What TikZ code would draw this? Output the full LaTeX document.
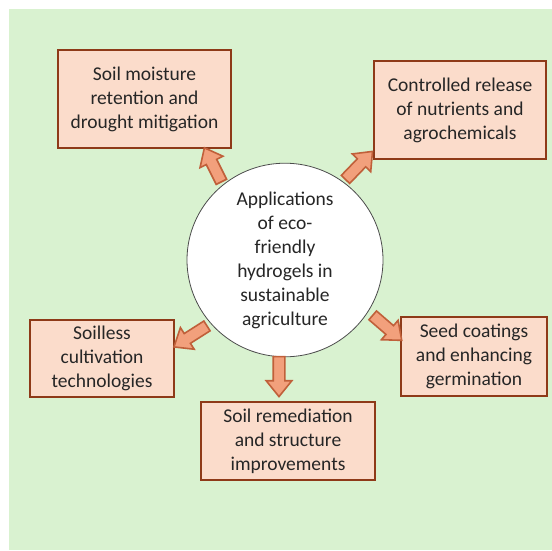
\documentclass[tikz,border=0pt]{standalone}
\usepackage{fontspec}
\setmainfont{Carlito}
\usepackage{tikz}
\usetikzlibrary{calc,shapes.geometric,shapes.arrows}
\definecolor{bgGreen}{HTML}{D9F2D0}
\definecolor{boxFill}{HTML}{FBDCCB}
\definecolor{boxLine}{HTML}{8E3A18}
\definecolor{arrFill}{HTML}{F2A07C}
\definecolor{arrLine}{HTML}{C0603A}
\tikzset{
    appbox/.style={draw=boxLine, line width=2.2pt, fill=boxFill, align=center,
        inner sep=0pt, font=\fontsize{19.5}{24}\selectfont, text=black!85},
    hubnode/.style={ellipse, draw=black!70, line width=.8pt, fill=white, align=center,
        inner sep=0pt, font=\fontsize{19.5}{24}\selectfont, text=black!85},
    blockarrow/.style={single arrow, draw=arrLine, line width=1.6pt, fill=arrFill,
        inner xsep=0pt, inner ysep=5pt, single arrow head extend=7pt,
        single arrow tip angle=78}
}
\def\BlockArrow#1#2{% tail tip
    \path let \p1 = ($(#2)-(#1)$), \n1 = {atan2(\y1,\x1)}, \n2 = {veclen(\x1,\y1)} in
        node[blockarrow, minimum height=\n2, rotate=\n1] at ($(#1)!.5!(#2)$) {};
}

\begin{document}
\begin{tikzpicture}[x=1pt, y=-1pt]
    \useasboundingbox (0,0) rectangle (552,550);
    \fill[bgGreen] (9,9) rectangle (552,550);

    \node[hubnode, minimum width=196pt, minimum height=181pt] (hub) at (285,260)
        {Applications\\of eco-\\friendly\\hydrogels in\\sustainable\\agriculture};

    \node[appbox, minimum width=173pt, minimum height=98pt] (moist) at (144.5,99)
        {Soil moisture\\retention and\\drought mitigation};
    \node[appbox, minimum width=172pt, minimum height=98pt] (release) at (460,110)
        {Controlled release\\of nutrients and\\agrochemicals};
    \node[appbox, minimum width=144pt, minimum height=77pt] (soilless) at (102,358.5)
        {Soilless\\cultivation\\technologies};
    \node[appbox, minimum width=146pt, minimum height=79pt] (seed) at (474,356.5)
        {Seed coatings\\and enhancing\\germination};
    \node[appbox, minimum width=174pt, minimum height=78pt] (remed) at (288,441)
        {Soil remediation\\and structure\\improvements};

    % arrow ends, tail near the hub, tip near each box
    \coordinate (t1) at (223,185); \coordinate (h1) at (206,151);
    \coordinate (t2) at (343,182); \coordinate (h2) at (370,154);
    \coordinate (t3) at (210,324); \coordinate (h3) at (177,345);
    \coordinate (t4) at (370,313); \coordinate (h4) at (399,338);
    \coordinate (t5) at (279,353); \coordinate (h5) at (279,393);

    \BlockArrow{t1}{h1}
    \BlockArrow{t2}{h2}
    \BlockArrow{t3}{h3}
    \BlockArrow{t4}{h4}
    \BlockArrow{t5}{h5}
\end{tikzpicture}
\end{document}
